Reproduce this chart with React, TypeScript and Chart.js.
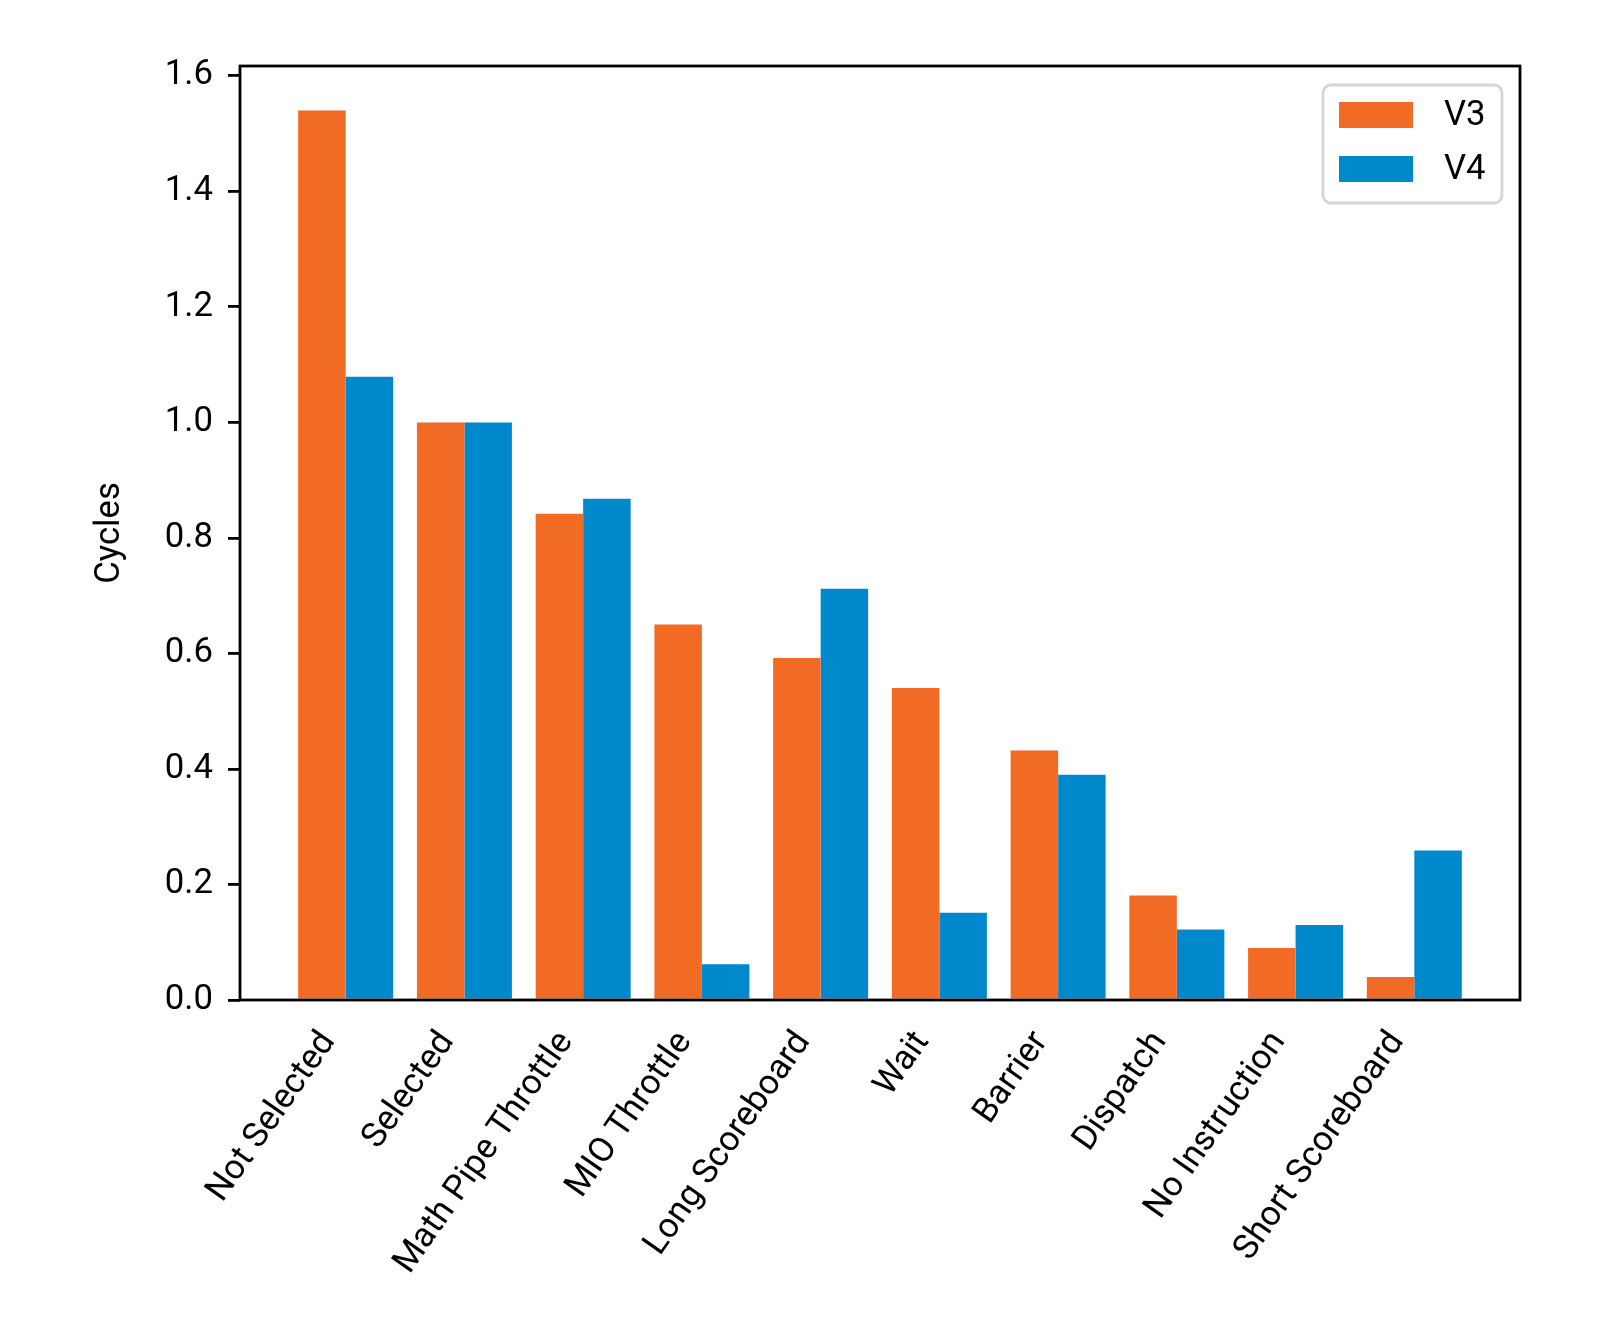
import React, { useEffect, useRef } from 'react';
import { Chart, registerables } from 'chart.js';

Chart.register(...registerables);

const categories = [
  'Not Selected',
  'Selected',
  'Math Pipe Throttle',
  'MIO Throttle',
  'Long Scoreboard',
  'Wait',
  'Barrier',
  'Dispatch',
  'No Instruction',
  'Short Scoreboard',
];
const v3Values = [1.54, 1.0, 0.842, 0.65, 0.592, 0.54, 0.432, 0.181, 0.09, 0.04];
const v4Values = [1.079, 1.0, 0.868, 0.062, 0.712, 0.151, 0.39, 0.122, 0.13, 0.259];
const yTickValues = [0, 0.2, 0.4, 0.6, 0.8, 1.0, 1.2, 1.4, 1.6];
const seriesLabels = ['V3', 'V4'];
const seriesColors = ['#F26B25', '#0088CC'];
const yAxisTitle = 'Cycles';

const FONT = 'Roboto';
const FS = 34.7;
const LW = 2.8;

const framePlugin = {
  id: 'frameAndLegend',
  afterDraw(chart: any) {
    const { ctx, chartArea: a } = chart;
    ctx.save();
    ctx.strokeStyle = '#000';
    ctx.lineWidth = LW;
    ctx.strokeRect(a.left, a.top, a.right - a.left, a.bottom - a.top);

    const w = 179;
    const h = 118;
    const fx = a.right - 18 - w;
    const fy = a.top + 19;
    ctx.beginPath();
    ctx.roundRect(fx, fy, w, h, 8);
    ctx.fillStyle = 'rgba(255,255,255,0.8)';
    ctx.fill();
    ctx.strokeStyle = '#d6d6d6';
    ctx.lineWidth = LW;
    ctx.stroke();
    chart.data.datasets.forEach((ds: any, i: number) => {
      const y = fy + 17 + i * 54;
      ctx.fillStyle = ds.backgroundColor;
      ctx.fillRect(fx + 16, y, 74, 26);
      ctx.fillStyle = '#000';
      ctx.font = `${FS}px ${FONT}`;
      ctx.textBaseline = 'middle';
      ctx.textAlign = 'left';
      ctx.fillText(ds.label, fx + 121, y + 14);
    });
    ctx.restore();
  },
};

export default function App() {
  const ref = useRef<HTMLCanvasElement | null>(null);

  useEffect(() => {
    if (!ref.current) return;
    Chart.defaults.font.family = FONT;
    Chart.defaults.color = '#000';
    const chart = new Chart(ref.current, {
      type: 'bar',
      data: {
        datasets: [
          {
            label: seriesLabels[0],
            data: v3Values.map((v, i) => ({ x: i, y: v })),
            backgroundColor: seriesColors[0],
            borderWidth: 0,
          },
          {
            label: seriesLabels[1],
            data: v4Values.map((v, i) => ({ x: i, y: v })),
            backgroundColor: seriesColors[1],
            borderWidth: 0,
          },
        ],
      },
      options: {
        responsive: false,
        animation: false,
        devicePixelRatio: 1,
        layout: { padding: { left: 0, top: 58, right: 72, bottom: 0 } },
        datasets: { bar: { categoryPercentage: 0.8, barPercentage: 1.0 } },
        plugins: { legend: { display: false }, tooltip: { enabled: false } },
        scales: {
          x: {
            type: 'linear',
            offset: false,
            min: -0.89,
            max: 9.89,
            afterBuildTicks: (scale: any) => {
              scale.ticks = categories.map((_, i) => ({ value: i }));
            },
            afterFit: (scale: any) => {
              scale.height = 325;
            },
            ticks: {
              autoSkip: false,
              minRotation: 55,
              maxRotation: 55,
              padding: 24,
              labelOffset: -17,
              font: { size: FS, family: FONT },
              color: '#000',
              callback: (v: any) => categories[Math.round(Number(v))] ?? '',
            },
            grid: {
              display: false,
              offset: false,
              drawOnChartArea: false,
              drawTicks: false,
            },
            border: { display: false },
          },
          y: {
            type: 'linear',
            min: 0,
            max: 1.617,
            afterBuildTicks: (scale: any) => {
              scale.ticks = yTickValues.map((v) => ({ value: v }));
            },
            afterFit: (scale: any) => {
              scale.width = 232;
            },
            ticks: {
              padding: 15,
              font: { size: FS, family: FONT },
              color: '#000',
              callback: (v: any) => Number(v).toFixed(1),
            },
            grid: {
              drawOnChartArea: false,
              drawTicks: true,
              tickLength: 12,
              color: '#000',
              lineWidth: LW,
            },
            border: { display: false },
            title: {
              display: true,
              text: yAxisTitle,
              font: { size: FS, family: FONT },
              color: '#000',
              padding: { top: 82, bottom: 0 },
            },
          },
        },
      },
      plugins: [framePlugin],
    } as any);
    return () => chart.destroy();
  }, []);

  return (
    <canvas
      ref={ref}
      width={1584}
      height={1317}
      style={{ display: 'block', width: '1584px', height: '1317px' }}
    />
  );
}
